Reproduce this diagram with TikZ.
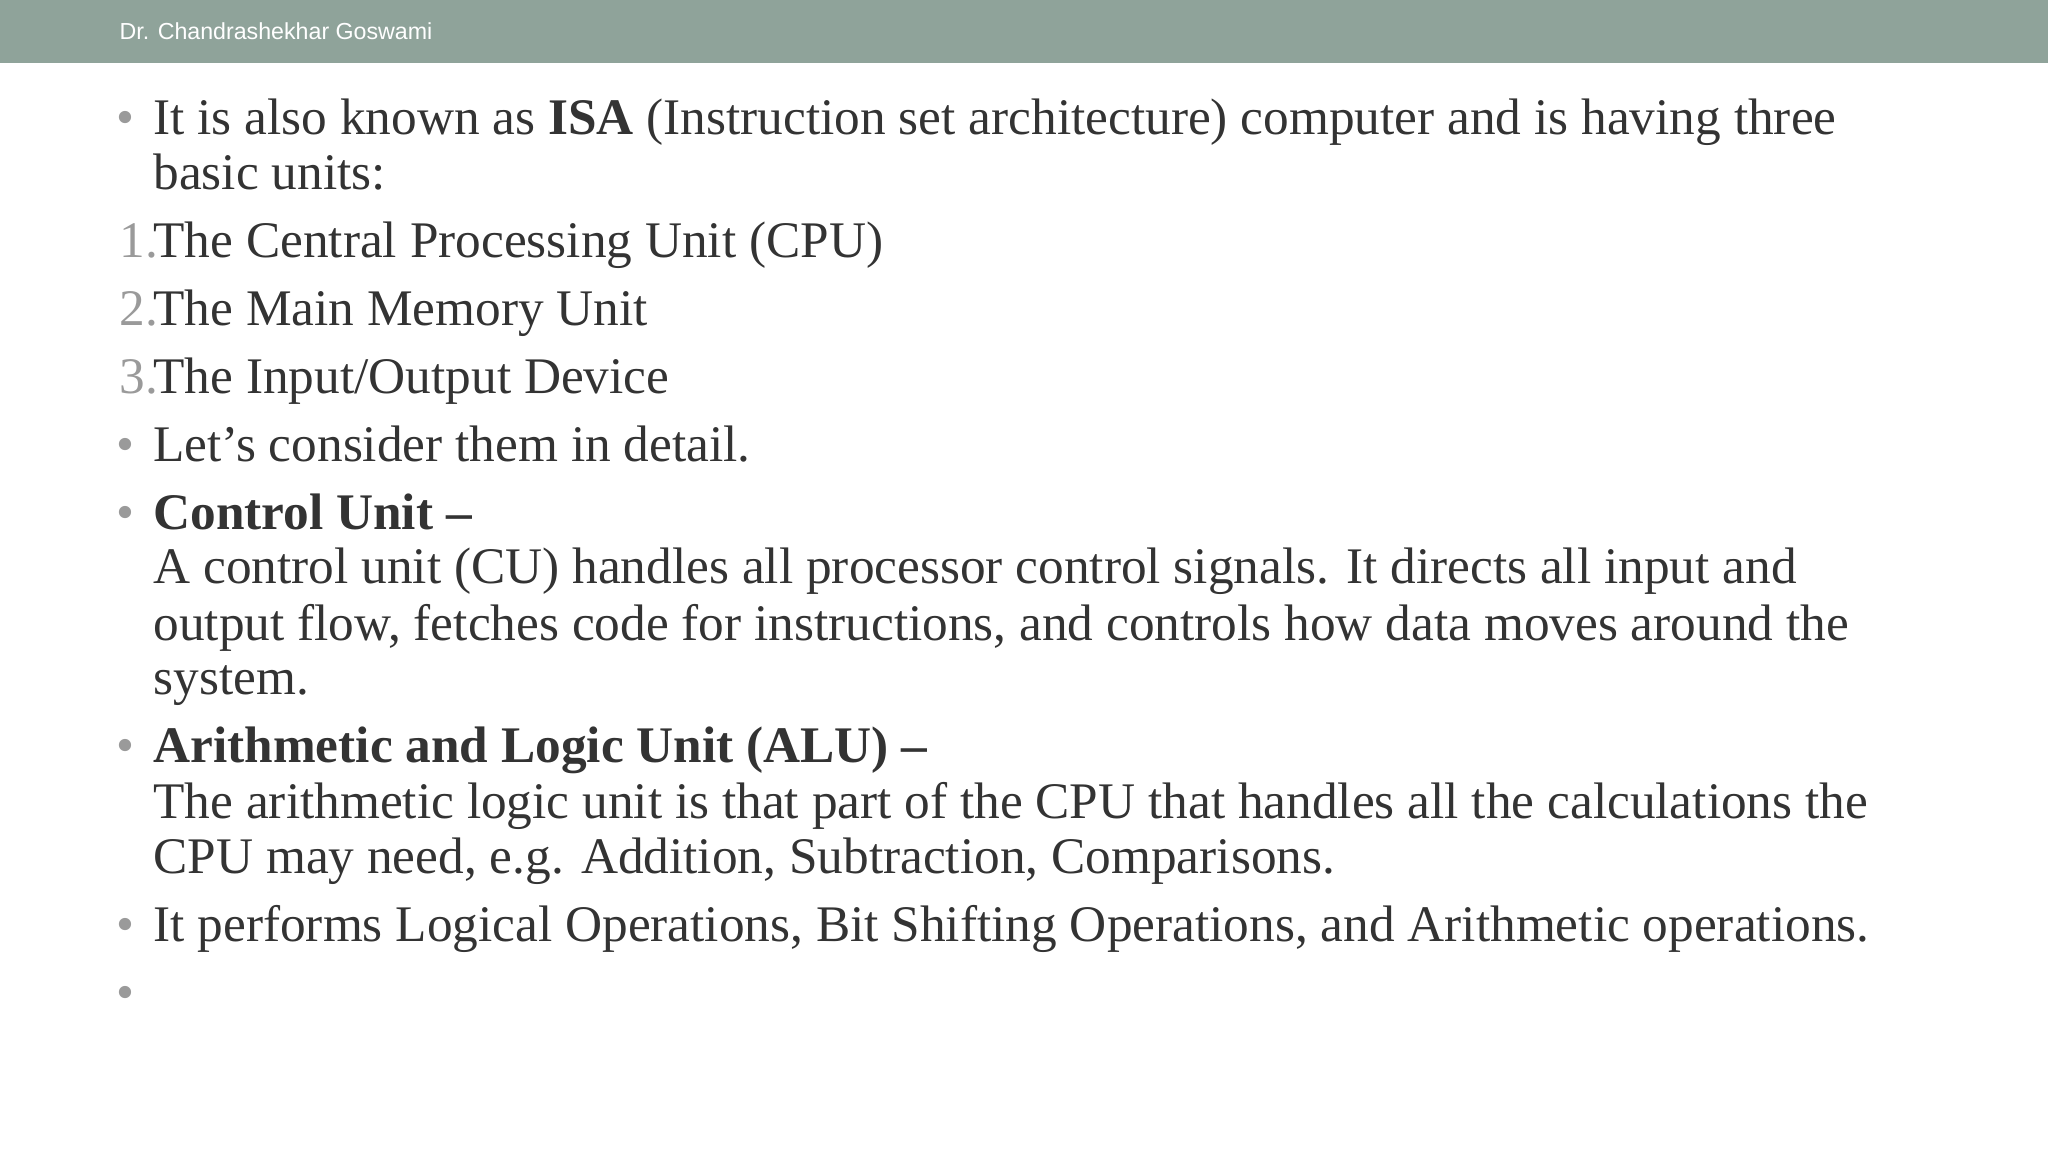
\documentclass[tikz,border=0pt]{standalone}
\usepackage{fontspec}
\setmainfont{Liberation Serif}
\newfontfamily\hdfont{Liberation Sans}
\definecolor{hdr}{HTML}{8FA39A}
\definecolor{txt}{HTML}{333333}
\definecolor{bul}{HTML}{9A9A9A}
\begin{document}
\begin{tikzpicture}[x=0.01306cm,y=-0.01306cm,
  line/.style={anchor=base west,inner sep=0pt,text=txt,font=\fontsize{14.6}{16}\selectfont},
  bl/.style={anchor=base west,inner sep=0pt,text=bul,font=\fontsize{14.6}{16}\selectfont}]
\useasboundingbox (0,0) rectangle (1568,900);
\fill[hdr] (0,0) rectangle (1568,48);
\node[anchor=west,inner sep=0pt,text=white,font=\hdfont\fontsize{6.6}{8}\selectfont] (hd) at (91,24) {Dr. Chandrashekhar Goswami};
\node[bl] (b1) at (89,103) {•};
\node[line] (l1) at (117,103) {It is also known as \textbf{ISA} (Instruction set architecture) computer and is having three};
\node[line] (l2) at (117,145) {basic units:};
\node[bl] (n1) at (91,197) {1.};
\node[line] (l3) at (117,197) {The Central Processing Unit (CPU)};
\node[bl] (n2) at (91,249) {2.};
\node[line] (l4) at (117,249) {The Main Memory Unit};
\node[bl] (n3) at (91,301) {3.};
\node[line] (l5) at (117,301) {The Input/Output Device};
\node[bl] (b2) at (89,353) {•};
\node[line] (l6) at (117,353) {Let’s consider them in detail.};
\node[bl] (b3) at (89,405) {•};
\node[line] (l7) at (117,405) {\textbf{Control Unit –}};
\node[line] (l8) at (117,447) {A control unit (CU) handles all processor control signals. It directs all input and};
\node[line] (l9) at (117,490) {output flow, fetches code for instructions, and controls how data moves around the};
\node[line] (l10) at (117,532) {system.};
\node[bl] (b4) at (89,584) {•};
\node[line] (l11) at (117,584) {\textbf{Arithmetic and Logic Unit (ALU) –}};
\node[line] (l12) at (117,627) {The arithmetic logic unit is that part of the CPU that handles all the calculations the};
\node[line] (l13) at (117,669) {CPU may need, e.g. Addition, Subtraction, Comparisons.};
\node[bl] (b5) at (89,721) {•};
\node[line] (l14) at (117,721) {It performs Logical Operations, Bit Shifting Operations, and Arithmetic operations.};
\node[bl] (b6) at (89,773) {•};
\end{tikzpicture}
\end{document}
